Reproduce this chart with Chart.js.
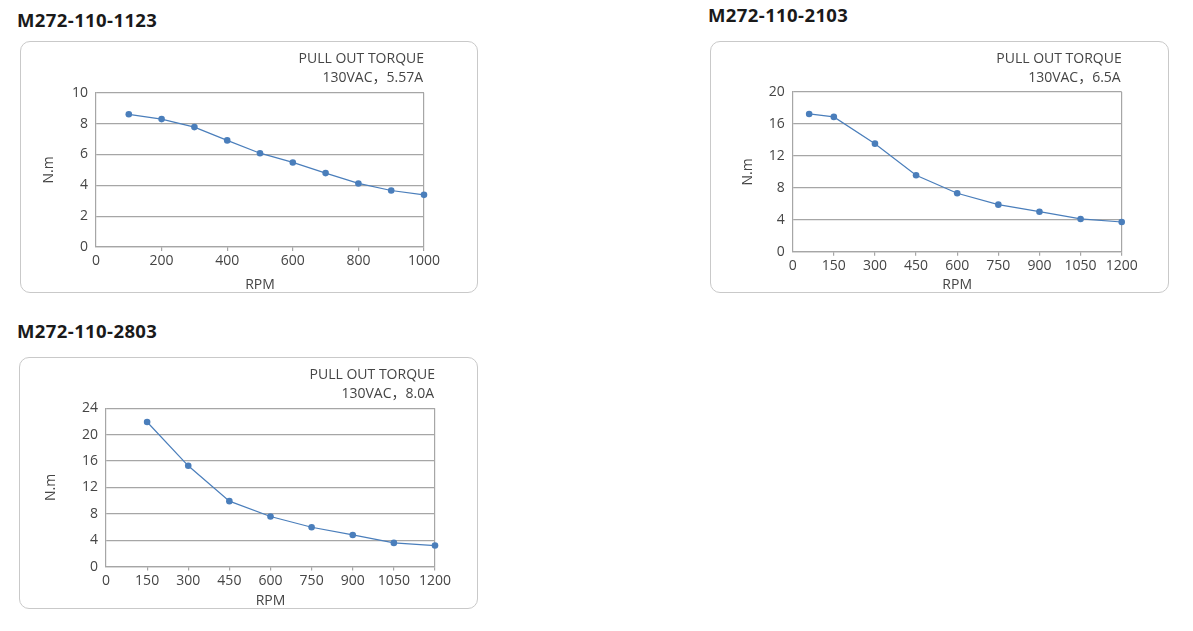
<!DOCTYPE html>
<html>
<head>
<meta charset="utf-8">
<script src="https://cdn.jsdelivr.net/npm/chart.js@4"></script>
<style>
  html, body { margin: 0; padding: 0; background: #fff; }
  body { width: 1193px; height: 631px; position: relative; overflow: hidden; font-family: "Open Sans", "Noto Sans", sans-serif; }
  .ttl { position: absolute; font-weight: 700; font-size: 18.5px; letter-spacing: 0.4px; color: #1a1a1a; line-height: 20px; white-space: nowrap; }
  .box { position: absolute; border: 1px solid #c9c9c9; border-radius: 10px; box-sizing: border-box; }
  .box canvas { position: absolute; left: 0; top: 0; }
</style>
</head>
<body>
<script>
// ---------- Data ----------
const titles = ["M272-110-1123", "M272-110-2103", "M272-110-2803"];
const noteLine1 = "PULL OUT TORQUE";
const noteLine2 = ["130VAC，5.57A", "130VAC，6.5A", "130VAC，8.0A"];

const rpm1 = [100, 200, 300, 400, 500, 600, 700, 800, 900, 1000];
const torque1 = [8.6, 8.29, 7.77, 6.91, 6.08, 5.48, 4.79, 4.12, 3.66, 3.38];

const rpm2 = [60, 150, 300, 450, 600, 750, 900, 1050, 1200];
const torque2 = [17.25, 16.88, 13.53, 9.57, 7.32, 5.89, 5.01, 4.10, 3.72];

const rpm3 = [150, 300, 450, 600, 750, 900, 1050, 1200];
const torque3 = [21.92, 15.28, 9.92, 7.6, 5.97, 4.8, 3.59, 3.19];

const xTicks1 = [0, 200, 400, 600, 800, 1000];
const xTicks2 = [0, 150, 300, 450, 600, 750, 900, 1050, 1200];
const yTicks1 = [0, 2, 4, 6, 8, 10];
const yTicks2 = [0, 4, 8, 12, 16, 20];
const yTicks3 = [0, 4, 8, 12, 16, 20, 24];

// ---------- Layout ----------
const panels = [
  { title: titles[0], tx: 17, ty: 10, box: [20, 41, 458, 252], rpm: rpm1, tq: torque1, xt: xTicks1, yt: yTicks1, note2: noteLine2[0],
    pad: { left: 16, right: 55, top: 50.7 }, yW: 59, xH: 46, padB: 1 },
  { title: titles[1], tx: 708, ty: 5, box: [710, 41, 459, 252], rpm: rpm2, tq: torque2, xt: xTicks2, yt: yTicks2, note2: noteLine2[1],
    pad: { left: 25, right: 48.3, top: 50 }, yW: 56.7, xH: 41.3, padB: 1 },
  { title: titles[2], tx: 17, ty: 321, box: [19, 357, 459, 252], rpm: rpm3, tq: torque3, xt: xTicks2, yt: yTicks3, note2: noteLine2[2],
    pad: { left: 19, right: 44, top: 50.3 }, yW: 67, xH: 42.4, padB: 1 }
];

const BLUE = '#4a7ebb';
const GRID = '#a6a6a6';
const TXT = '#454545';
const FONT = '"Open Sans", "Noto Sans", sans-serif';
const NOTE_FONT = '"Open Sans", "Noto Sans CJK SC", sans-serif';
const FS = 14;

const notePlugin = {
  id: 'note',
  afterDraw(chart) {
    const ctx = chart.ctx, a = chart.chartArea;
    const o = chart.options.plugins.note;
    ctx.save();
    ctx.fillStyle = TXT;
    ctx.font = FS + 'px ' + NOTE_FONT;
    ctx.textAlign = 'right';
    ctx.textBaseline = 'middle';
    ctx.fillText(o.l1, a.right, 17);
    ctx.fillText(o.l2, a.right - 1, 36.3);
    ctx.restore();
  }
};

panels.forEach(p => {
  const t = document.createElement('div');
  t.className = 'ttl';
  t.style.left = p.tx + 'px';
  t.style.top = p.ty + 'px';
  t.textContent = p.title;
  document.body.appendChild(t);

  const b = document.createElement('div');
  b.className = 'box';
  b.style.left = p.box[0] + 'px';
  b.style.top = p.box[1] + 'px';
  b.style.width = p.box[2] + 'px';
  b.style.height = p.box[3] + 'px';
  const c = document.createElement('canvas');
  c.width = p.box[2]; c.height = p.box[3];
  c.style.width = p.box[2] + 'px'; c.style.height = p.box[3] + 'px';
  b.appendChild(c);
  document.body.appendChild(b);

  const xMax = p.xt[p.xt.length - 1];
  const yMax = p.yt[p.yt.length - 1];

  new Chart(c.getContext('2d'), {
    type: 'line',
    data: {
      datasets: [{
        data: p.rpm.map((x, i) => ({ x: x, y: p.tq[i] })),
        borderColor: BLUE,
        backgroundColor: BLUE,
        borderWidth: 1.2,
        pointRadius: 3.3,
        pointBorderWidth: 0,
        pointBackgroundColor: BLUE,
        tension: 0,
        fill: false,
        clip: false
      }]
    },
    options: {
      responsive: false,
      animation: false,
      events: [],
      layout: { padding: { left: p.pad.left, right: p.pad.right, top: p.pad.top, bottom: p.padB } },
      plugins: {
        legend: { display: false },
        tooltip: { enabled: false },
        note: { l1: noteLine1, l2: p.note2 }
      },
      scales: {
        x: {
          type: 'linear',
          min: 0, max: xMax,
          afterBuildTicks: s => { s.ticks = p.xt.map(v => ({ value: v })); },
          afterFit: s => { s.height = p.xH; },
          grid: {
            drawOnChartArea: true,
            color: ctx => (ctx.tick && ctx.tick.value === xMax) ? GRID : 'rgba(0,0,0,0)',
            tickColor: ctx => (ctx.tick && ctx.tick.value === 0) ? 'rgba(0,0,0,0)' : GRID,
            tickLength: 4,
            lineWidth: 1.2
          },
          border: { display: true, color: GRID, width: 1.2 },
          ticks: { color: TXT, font: { family: FONT, size: FS }, padding: 2, maxRotation: 0, autoSkip: false,
                   callback: v => String(v) },
          title: { display: true, text: 'RPM', color: TXT, font: { family: FONT, size: FS }, padding: { top: 0, bottom: 0 } }
        },
        y: {
          type: 'linear',
          min: 0, max: yMax,
          afterBuildTicks: s => { s.ticks = p.yt.map(v => ({ value: v })); },
          afterFit: s => { s.width = p.yW; },
          grid: { color: GRID, drawTicks: false, lineWidth: 1.2 },
          border: { display: true, color: GRID, width: 1.2 },
          ticks: { color: TXT, font: { family: FONT, size: FS }, padding: 8, callback: v => String(v) },
          title: { display: true, text: 'N.m', color: TXT, font: { family: FONT, size: FS }, padding: { top: 4, bottom: 4 } }
        }
      }
    },
    plugins: [notePlugin]
  });
});
</script>
</body>
</html>
